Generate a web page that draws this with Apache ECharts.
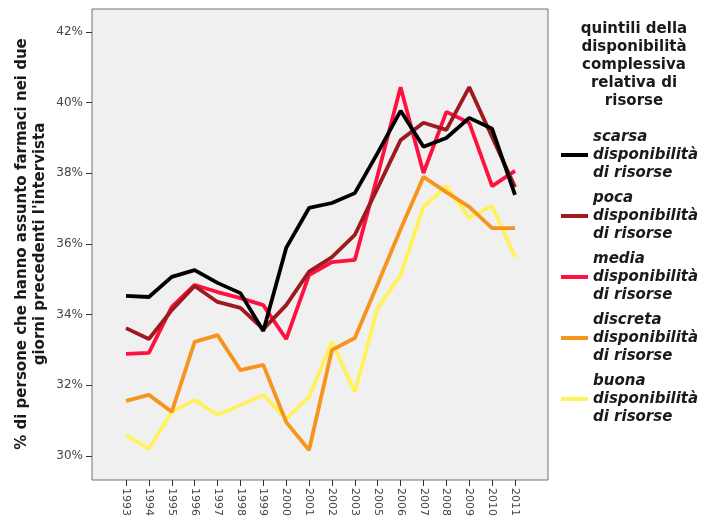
<!DOCTYPE html>
<html>
<head>
<meta charset="utf-8">
<script src="https://cdn.jsdelivr.net/npm/echarts@6/dist/echarts.min.js"></script>
<style>
  html, body { margin: 0; padding: 0; background: #ffffff; }
  #chart { width: 706px; height: 519px; }
</style>
</head>
<body>
<div id="chart"></div>
<script>
// Survey years (2004 not surveyed)
const years = ['1993','1994','1995','1996','1997','1998','1999','2000','2001','2002','2003','2005','2006','2007','2008','2009','2010','2011'];

// % of people who took medicines in the two days before the interview, by resource quintile
const scarsa   = [34.53, 34.50, 35.07, 35.26, 34.90, 34.61, 33.54, 35.89, 37.02, 37.16, 37.44, 38.58, 39.77, 38.75, 39.00, 39.57, 39.26, 37.39];
const poca     = [33.62, 33.31, 34.13, 34.81, 34.36, 34.19, 33.59, 34.27, 35.22, 35.63, 36.26, 37.59, 38.94, 39.43, 39.23, 40.44, 39.03, 37.61];
const media    = [32.89, 32.92, 34.22, 34.84, 34.64, 34.47, 34.27, 33.31, 35.12, 35.49, 35.55, 37.95, 40.44, 38.01, 39.74, 39.43, 37.64, 38.07];
const discreta = [31.56, 31.73, 31.25, 33.23, 33.42, 32.43, 32.58, 30.96, 30.17, 33.00, 33.34, 34.87, 36.42, 37.90, 37.47, 37.05, 36.45, 36.45];
const buona    = [30.59, 30.20, 31.25, 31.58, 31.16, 31.44, 31.73, 31.05, 31.67, 33.23, 31.81, 34.19, 35.12, 37.05, 37.64, 36.74, 37.08, 35.63];

const seriesNames = [
  'scarsa disponibilità di risorse',
  'poca disponibilità di risorse',
  'media disponibilità di risorse',
  'discreta disponibilità di risorse',
  'buona disponibilità di risorse'
];
const seriesData = [scarsa, poca, media, discreta, buona];
const seriesColors = ['#000000', '#9e1a1e', '#ff1040', '#f7941e', '#fff25a'];

const yTitle = "% di persone che hanno assunto farmaci nei due\ngiorni precedenti l'intervista";
const legendTitle = 'quintili della\ndisponibilità\ncomplessiva\nrelativa di\nrisorse';

const chart = echarts.init(document.getElementById('chart'), null, { renderer: 'canvas' });

const FONT = 'DejaVu Sans';

chart.setOption({
  animation: false,
  backgroundColor: '#ffffff',
  title: {
    text: legendTitle,
    left: 634,
    top: 20,
    textAlign: 'center',
    padding: 0,
    textStyle: {
      fontFamily: FONT,
      fontSize: 15,
      fontWeight: 'bold',
      lineHeight: 18,
      color: '#1a1a1a',
      align: 'center'
    }
  },
  legend: {
    orient: 'vertical',
    left: 561,
    top: 128,
    padding: 0,
    itemGap: 7,
    itemWidth: 27,
    itemHeight: 4,
    icon: 'rect',
    data: seriesNames,
    formatter: name => name.replace(' disponibilità ', '\ndisponibilità\n'),
    textStyle: {
      fontFamily: FONT,
      fontSize: 15,
      fontWeight: 'bold',
      fontStyle: 'italic',
      lineHeight: 18,
      color: '#1a1a1a'
    }
  },
  grid: [
    // plot frame
    { left: 92, right: 158, top: 9, bottom: 39, show: true,
      backgroundColor: '#f0f0f0', borderColor: '#707070', borderWidth: 1 },
    // data area
    { left: 126, right: 191, top: 32, bottom: 63 }
  ],
  xAxis: [
    { gridIndex: 0, type: 'value', show: false, min: 0, max: 1 },
    {
      gridIndex: 1,
      type: 'category',
      data: years,
      boundaryGap: false,
      offset: 24,
      axisLine: { show: false },
      axisTick: { show: true, length: 6, alignWithLabel: true, lineStyle: { color: '#333' } },
      axisLabel: {
        rotate: -90,
        interval: 0,
        margin: 8,
        fontFamily: FONT,
        fontSize: 11,
        color: '#444'
      },
      splitLine: { show: false }
    }
  ],
  yAxis: [
    { gridIndex: 0, type: 'value', show: false, min: 0, max: 1 },
    {
      gridIndex: 1,
      type: 'value',
      min: 30,
      max: 42,
      interval: 2,
      offset: 34,
      axisLine: { show: false },
      axisTick: { show: true, length: 6, lineStyle: { color: '#333' } },
      axisLabel: {
        formatter: '{value}%',
        margin: 9,
        fontFamily: FONT,
        fontSize: 12,
        color: '#444'
      },
      splitLine: { show: false },
      name: yTitle,
      nameLocation: 'middle',
      nameRotate: 90,
      nameGap: 43,
      nameMoveOverlap: false,
      nameTextStyle: {
        fontFamily: FONT,
        fontSize: 15,
        fontWeight: 'bold',
        lineHeight: 18,
        color: '#1a1a1a',
        align: 'center'
      }
    }
  ],
  series: seriesNames.map((name, i) => ({
    name: name,
    type: 'line',
    xAxisIndex: 1,
    yAxisIndex: 1,
    data: seriesData[i],
    symbol: 'none',
    smooth: false,
    color: seriesColors[i],
    lineStyle: { width: 3.8, color: seriesColors[i] },
    z: 10 - i
  }))
});
</script>
</body>
</html>
